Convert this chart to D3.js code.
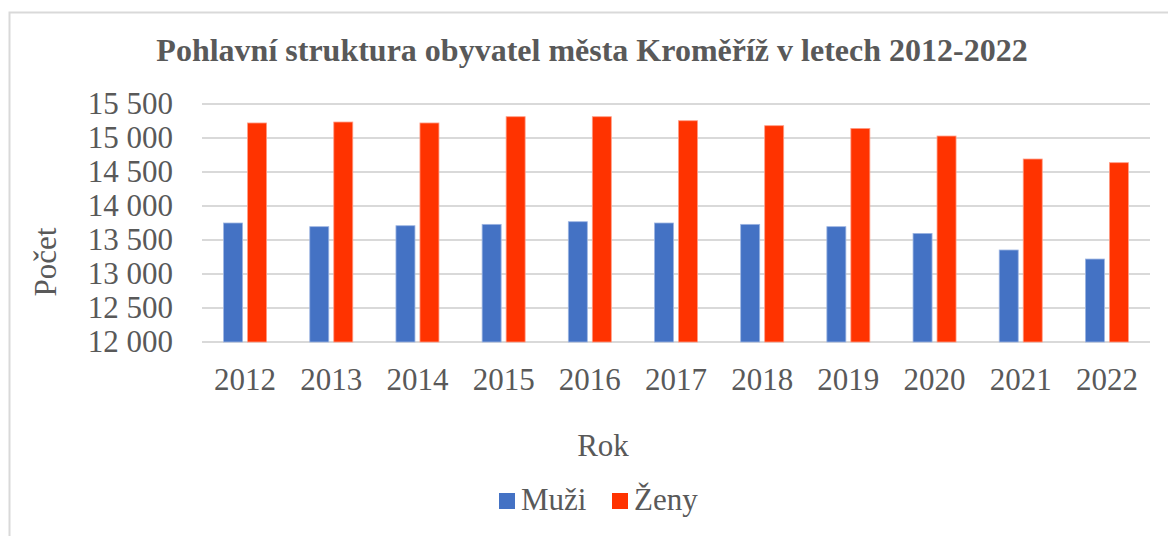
<!DOCTYPE html>
<html><head><meta charset="utf-8">
<script src="https://cdn.jsdelivr.net/npm/d3@7"></script>
<style>
html,body{margin:0;padding:0;background:#fff;}
svg{display:block;}
text{font-family:"Liberation Serif","Times New Roman",serif;fill:#595959;}
</style></head>
<body>
<svg id="c" width="1168" height="536"></svg>
<script>
const years = ["2012","2013","2014","2015","2016","2017","2018","2019","2020","2021","2022"];
const muzi = [13750,13696,13710,13730,13769,13750,13730,13696,13597,13353,13220];
const zeny = [15221,15235,15221,15313,15313,15254,15181,15141,15029,14691,14637];
const yTicks = [12000,12500,13000,13500,14000,14500,15000,15500];
const seriesNames = ["Muži","Ženy"];
const colors = ["#4472C4","#FF3300"];

const svg = d3.select("#c");
// frame
svg.append("rect").attr("x",9.5).attr("y",12.5).attr("width",1200).attr("height",600)
  .attr("fill","#fff").attr("stroke","#d9d9d9").attr("stroke-width",2);

const L=202, R=1150, T=104, B=342;
const x = d3.scaleBand().domain(years).range([L,R]).paddingInner(0).paddingOuter(0);
const y = d3.scaleLinear().domain([12000,15500]).range([B,T]);

// gridlines
svg.append("g").selectAll("line").data(yTicks).join("line")
  .attr("x1",L).attr("x2",R).attr("y1",d=>y(d)).attr("y2",d=>y(d))
  .attr("stroke","#d9d9d9").attr("stroke-width",2);

const fmt = d => d3.format(",")(d).replace(",", " ");
const yAxis = d3.axisLeft(y).tickValues(yTicks).tickSize(0).tickPadding(29).tickFormat(fmt);
const gy = svg.append("g").attr("transform",`translate(${L},0)`).call(yAxis);
gy.select(".domain").remove();
gy.selectAll("text").attr("font-size",31).attr("font-family",null).attr("fill","#595959");

const xAxis = d3.axisBottom(x).tickSize(0).tickPadding(0);
const gx = svg.append("g").attr("transform",`translate(0,${B})`).call(xAxis);
gx.select(".domain").remove();
gx.selectAll("text").attr("font-size",31).attr("font-family",null).attr("fill","#595959").attr("dy",null).attr("y",48);

const bw = 19, gap = 5;
const data = years.map((yr,i)=>({yr, vals:[muzi[i],zeny[i]]}));
const g = svg.append("g");
data.forEach(d=>{
  d.vals.forEach((v,j)=>{
    const cx = x(d.yr) + x.bandwidth()/2 - (bw*2+gap)/2 + j*(bw+gap);
    g.append("rect").attr("x",cx).attr("y",y(v)).attr("width",bw).attr("height",y(12000)-y(v))
      .attr("fill",colors[j]).attr("stroke", j===0?"#9db5e2":"#ff9c85").attr("stroke-width",0.8);
  });
});

// title
svg.append("text").attr("x",592).attr("y",61).attr("text-anchor","middle")
  .attr("font-size",32).attr("font-weight","bold").text("Pohlavní struktura obyvatel města Kroměříž v letech 2012-2022");

// axis titles
svg.append("text").attr("x",603).attr("y",456).attr("text-anchor","middle").attr("font-size",31).text("Rok");
svg.append("text").attr("transform","translate(56,262) rotate(-90)").attr("text-anchor","middle").attr("font-size",31).text("Počet");

// legend
const leg = svg.append("g");
const legX = [499, 612];
seriesNames.forEach((n,i)=>{
  leg.append("rect").attr("x",legX[i]).attr("y",493).attr("width",16).attr("height",16).attr("fill",colors[i]);
  leg.append("text").attr("x",legX[i]+22).attr("y",510).attr("font-size",31).text(n);
});
</script>
</body></html>
